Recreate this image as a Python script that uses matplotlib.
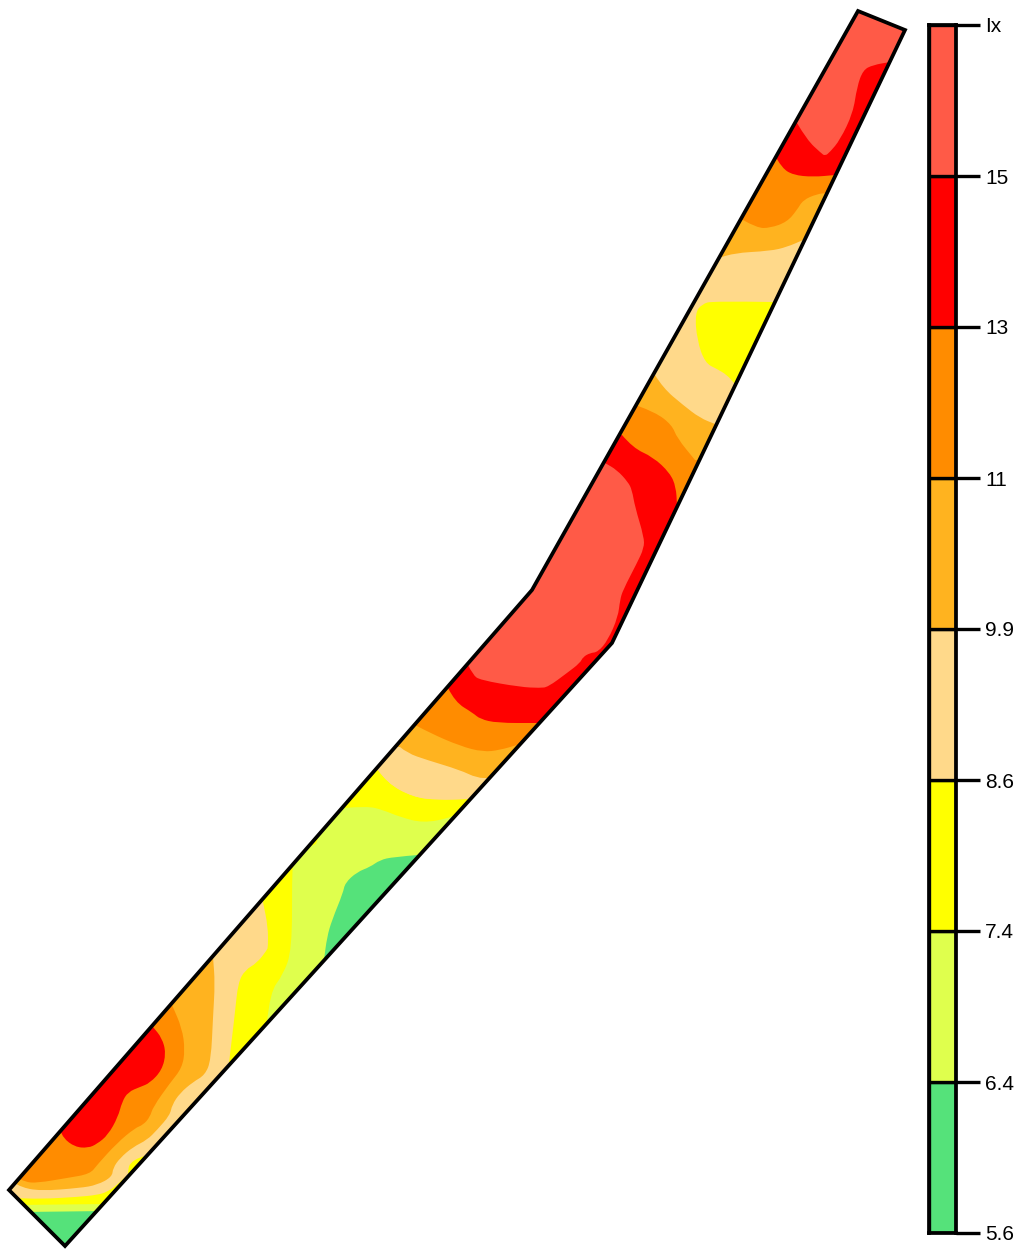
"""Filled contour strip of Ix with a stepped colour bar."""
import matplotlib
matplotlib.use("Agg")
import matplotlib.pyplot as plt
from matplotlib.patches import PathPatch, Polygon
from matplotlib.path import Path

W, H = 1019, 1250

# Colour bar, bottom to top
LEVEL_LABELS = ["5.6", "6.4", "7.4", "8.6", "9.9", "11", "13", "15", "Ix"]
BAND_COLORS = ["#55E27A", "#DFFF4D", "#FFFF00", "#FFD98A",
               "#FFB31F", "#FF8C00", "#FF0000", "#FF5A47"]
GREEN, LIME, YELLOW, SAND, AMBER, ORANGE, RED, CORAL = BAND_COLORS

# Strip outline in image pixels
OUTLINE_X = [858, 905, 612, 65, 9, 532]
OUTLINE_Y = [11, 30, 643, 1246, 1190, 590]

# Contour lines, lower-left end of the strip first
LIME_END = ([0, 34, 97, 150], [1212, 1212, 1211, 1211])
YELLOW_END = ([0, 23, 100, 150], [1205, 1205, 1204, 1204])
SAND_END = ([0, 17, 40, 77, 97, 107, 117, 125, 129],
            [1198, 1198, 1199, 1197, 1195, 1192, 1185, 1177, 1175])
WEDGE = ([128, 128, 130, 140, 147], [1176, 1170, 1163, 1157, 1156])

AMBER_LOW = ([15, 20, 40, 80, 97, 112, 113, 120, 133, 147, 157, 170, 172, 180, 193, 205, 211, 213, 215, 213],
             [1183, 1187, 1191, 1188, 1185, 1177, 1168, 1158, 1147, 1140, 1130, 1115, 1105, 1093, 1082, 1075, 1060, 1017, 983, 957])
ORANGE_LOW = ([20, 25, 37, 67, 90, 97, 117, 135, 143, 150, 153, 170, 182, 185, 182, 172],
              [1179, 1182, 1183, 1178, 1174, 1165, 1143, 1128, 1125, 1117, 1107, 1083, 1068, 1050, 1028, 1005])
RED_LOW = ([61, 63, 75, 88, 97, 108, 118, 122, 128, 140, 150, 162, 166, 162, 153],
           [1132, 1138, 1147, 1148, 1144, 1135, 1117, 1102, 1092, 1087, 1083, 1070, 1053, 1038, 1027])

YELLOW_LEFT = ([229, 235, 238, 245, 257, 267, 268, 268, 263],
               [1063, 1013, 983, 970, 963, 950, 947, 927, 902])
LIME_LEFT = ([267, 270, 283, 292, 292, 293],
             [1022, 992, 975, 950, 877, 865])
LIME_TOP = ([344, 367, 383, 400, 423, 450, 456],
            [808, 806, 810, 817, 823, 818, 813])
GREEN_EDGE = ([418, 393, 380, 370, 357, 345, 343, 332, 327, 324],
              [855, 857, 860, 867, 872, 883, 893, 920, 937, 960])
SPECK_X = [311, 319, 316]
SPECK_Y = [846, 835, 844]

SAND_MID = ([378, 387, 413, 437, 468], [770, 783, 797, 800, 799])
AMBER_MID = ([400, 407, 427, 460, 477, 490], [747, 753, 760, 770, 778, 778])
ORANGE_MID = ([417, 430, 460, 483, 500, 517], [726, 733, 746, 752, 750, 745])
RED_MID = ([448, 455, 473, 480, 497, 537], [688, 702, 713, 719, 723, 723])
CORAL_MID = ([468, 473, 480, 520, 540, 548, 567, 580, 583, 590, 598, 608, 618, 620, 623, 637, 644, 644, 635, 632, 628, 617, 605],
             [665, 675, 680, 687, 688, 687, 673, 663, 657, 653, 652, 640, 617, 600, 590, 563, 548, 537, 507, 490, 482, 470, 463])

ORANGE_UP = ([622, 633, 653, 670, 676, 677], [435, 448, 457, 473, 487, 505])
AMBER_UP = ([638, 655, 672, 677, 695], [406, 412, 425, 438, 460])
SAND_UP = ([655, 663, 683, 700, 715], [375, 388, 405, 418, 424])
YELLOW_BLOB = ([773, 713, 702, 695, 697, 705, 717, 727, 734],
               [302, 301, 304, 313, 340, 363, 369, 375, 383])
AMBER_TOP = ([722, 733, 770, 787, 803], [257, 253, 251, 247, 240])
ORANGE_TOP = ([743, 757, 770, 787, 797, 803, 817, 827], [220, 228, 228, 222, 210, 200, 194, 193])
RED_TOP = ([777, 782, 793, 813, 835], [159, 168, 175, 177, 175])
CORAL_TOP = ([797, 807, 821, 825, 830, 840, 853, 857, 863, 873, 890],
             [123, 140, 153, 156, 152, 140, 113, 87, 70, 65, 62])


def smooth(verts, codes, curve):
    """Append a curve, rounding it through quadratic segments."""
    pts = list(zip(*curve))
    verts.append(pts[0])
    codes.append(Path.LINETO)
    for i in range(1, len(pts) - 1):
        mid = ((pts[i][0] + pts[i + 1][0]) / 2, (pts[i][1] + pts[i + 1][1]) / 2)
        verts += [pts[i], mid]
        codes += [Path.CURVE3, Path.CURVE3]
    verts.append(pts[-1])
    codes.append(Path.LINETO)


def region(*parts):
    """Closed path; a part is a curve (xs, ys) or a straight list of points."""
    verts, codes = [], []
    for part in parts:
        if isinstance(part, tuple):
            smooth(verts, codes, part)
        else:
            verts += part
            codes += [Path.LINETO] * len(part)
    codes[0] = Path.MOVETO
    verts.append(verts[0])
    codes.append(Path.CLOSEPOLY)
    return Path(verts, codes)


def above(curve):
    """Everything on the upper side of a contour that crosses the strip."""
    xs, ys = curve
    return region(curve, [(W, ys[-1]), (W, 0), (0, 0), (0, ys[0])])


def main():
    plt.rcParams["font.family"] = ["Liberation Sans", "DejaVu Sans"]
    fig = plt.figure(figsize=(W / 100, H / 100), dpi=100)

    ax = fig.add_axes([0, 0, 1, 1])
    ax.set_xlim(0, W)
    ax.set_ylim(H, 0)
    ax.axis("off")

    outline = Polygon(list(zip(OUTLINE_X, OUTLINE_Y)), closed=True, fill=False,
                      edgecolor="black", lw=2.7, joinstyle="miter", zorder=5)
    ax.add_patch(outline)

    # Painted in order, each layer covers what lies further down the strip
    layers = [
        (GREEN, region([(0, 1250), (W, 1250), (W, 0), (0, 0)])),
        (LIME, above(LIME_END)),
        (YELLOW, above(YELLOW_END)),
        (SAND, above(SAND_END)),
        (YELLOW, region(WEDGE, [(170, 1170)])),
        (AMBER, region(AMBER_LOW, [(205, 945), (0, 1170)])),
        (ORANGE, region(ORANGE_LOW, [(160, 995), (0, 1165)])),
        (RED, region(RED_LOW, [(145, 1015), (50, 1125)])),
        (YELLOW, region(YELLOW_LEFT, [(255, 890), (370, 760)], SAND_MID, [(480, 810), (250, 1065)])),
        (LIME, region(LIME_LEFT, [(330, 800)], LIME_TOP, [(480, 830), (290, 1030)])),
        (GREEN, region(GREEN_EDGE, [(345, 975), (440, 860)])),
        (YELLOW, region(list(zip(SPECK_X, SPECK_Y)))),
        (SAND, above(SAND_MID)),
        (AMBER, above(AMBER_MID)),
        (ORANGE, above(ORANGE_MID)),
        (RED, above(RED_MID)),
        (CORAL, region(CORAL_MID, [(590, 450), (520, 570), (450, 640)])),
        (ORANGE, above(ORANGE_UP)),
        (AMBER, above(AMBER_UP)),
        (SAND, above(SAND_UP)),
        (YELLOW, region(YELLOW_BLOB, [(760, 385), (795, 300)])),
        (AMBER, above(AMBER_TOP)),
        (ORANGE, above(ORANGE_TOP)),
        (RED, above(RED_TOP)),
        (CORAL, above(CORAL_TOP)),
    ]
    for i, (color, path) in enumerate(layers):
        patch = PathPatch(path, facecolor=color, edgecolor="none", zorder=1 + i * 0.01)
        ax.add_patch(patch)
        patch.set_clip_path(outline)

    # Colour bar
    cax = fig.add_axes([929 / W, (H - 1233) / H, 27 / W, 1208 / H])
    for i, color in enumerate(BAND_COLORS):
        cax.bar(0.5, 1, width=1, bottom=i, color=color, edgecolor="black", lw=2.4)
    cax.set_xlim(0, 1)
    cax.set_ylim(0, len(BAND_COLORS))
    cax.set_xticks([])
    cax.yaxis.tick_right()
    cax.set_yticks(range(len(LEVEL_LABELS)))
    cax.set_yticklabels(LEVEL_LABELS, fontsize=15)
    cax.tick_params(axis="y", length=17.3, width=2.4, pad=3.8)
    for spine in cax.spines.values():
        spine.set_linewidth(2.7)

    fig.savefig("out.png", dpi=100)


if __name__ == "__main__":
    main()
